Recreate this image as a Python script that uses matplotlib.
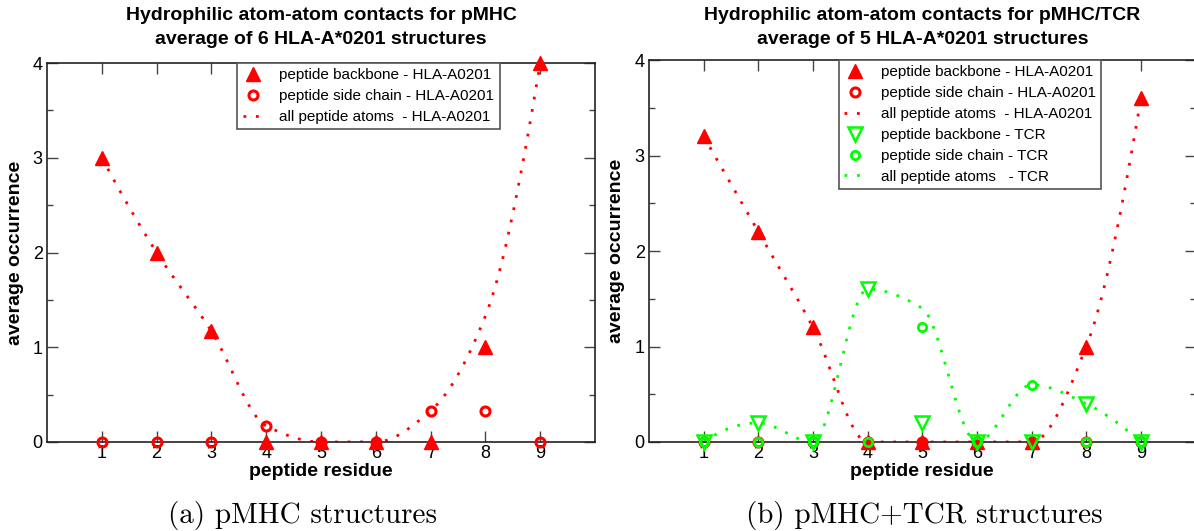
import numpy as np
import matplotlib
matplotlib.use("Agg")
import matplotlib.pyplot as plt
from matplotlib.ticker import MultipleLocator

plt.rcParams['font.family'] = ['Liberation Sans', 'DejaVu Sans']

# ---------------- data ----------------
residues = [1, 2, 3, 4, 5, 6, 7, 8, 9]

# pMHC (average of 6 HLA-A*0201 structures)
a_backbone_hla = [3.0, 2.0, 1.17, 0.0, 0.0, 0.0, 0.0, 1.0, 4.0]
a_side_hla = [0.0, 0.0, 0.0, 0.17, 0.0, 0.0, 0.33, 0.33, 0.0]
a_all_hla = [3.0, 2.0, 1.17, 0.17, 0.0, 0.0, 0.33, 1.33, 4.0]

# pMHC/TCR (average of 5 HLA-A*0201 structures)
b_backbone_hla = [3.2, 2.2, 1.2, 0.0, 0.0, 0.0, 0.0, 1.0, 3.6]
b_side_hla = [0.0, 0.0, 0.0, 0.0, 0.0, 0.0, 0.0, 0.0, 0.0]
b_all_hla = [3.2, 2.2, 1.2, 0.0, 0.0, 0.0, 0.0, 1.0, 3.6]
b_backbone_tcr = [0.0, 0.2, 0.0, 1.6, 0.2, 0.0, 0.0, 0.4, 0.0]
b_side_tcr = [0.0, 0.0, 0.0, 0.0, 1.2, 0.0, 0.6, 0.0, 0.0]
b_all_tcr = [0.0, 0.2, 0.0, 1.6, 1.4, 0.0, 0.6, 0.4, 0.0]

titles = [("Hydrophilic atom-atom contacts for pMHC",
           "average of 6 HLA-A*0201 structures"),
          ("Hydrophilic atom-atom contacts for pMHC/TCR",
           "average of 5 HLA-A*0201 structures")]
captions = ["(a) pMHC structures", "(b) pMHC+TCR structures"]

RED = "#ff0000"
GREEN = "#00ff00"


def pchip(x, y, xs):
    """Monotone piecewise cubic (Fritsch-Carlson) through (x, y) evaluated at xs."""
    x = np.asarray(x, float)
    y = np.asarray(y, float)
    n = len(x)
    h = np.diff(x)
    m = np.diff(y) / h
    d = np.zeros(n)
    for i in range(1, n - 1):
        if m[i - 1] * m[i] > 0:
            w1 = 2 * h[i] + h[i - 1]
            w2 = h[i] + 2 * h[i - 1]
            d[i] = (w1 + w2) / (w1 / m[i - 1] + w2 / m[i])
        else:
            d[i] = 0.0

    def end_slope(h0, h1, m0, m1):
        s = ((2 * h0 + h1) * m0 - h0 * m1) / (h0 + h1)
        if np.sign(s) != np.sign(m0):
            s = 0.0
        elif np.sign(m0) != np.sign(m1) and abs(s) > abs(3 * m0):
            s = 3 * m0
        return s

    d[0] = end_slope(h[0], h[1], m[0], m[1])
    d[-1] = end_slope(h[-1], h[-2], m[-1], m[-2])

    xs = np.asarray(xs, float)
    idx = np.clip(np.searchsorted(x, xs) - 1, 0, n - 2)
    hh = h[idx]
    s = (xs - x[idx]) / hh
    h00 = 2 * s**3 - 3 * s**2 + 1
    h10 = s**3 - 2 * s**2 + s
    h01 = -2 * s**3 + 3 * s**2
    h11 = s**3 - s**2
    return h00 * y[idx] + h10 * hh * d[idx] + h01 * y[idx + 1] + h11 * hh * d[idx + 1]


xs_fine = np.linspace(residues[0], residues[-1], 800)
dot_style = dict(lw=2.0, dashes=(1.0, 3.5), dash_capstyle='butt')

fig = plt.figure(figsize=(11.94, 5.31), dpi=100)
W, H = 1194.0, 531.0


def make_axes(x0, x1, ytop, ybot):
    return fig.add_axes([x0 / W, (H - ybot) / H, (x1 - x0) / W, (ybot - ytop) / H])


axA = make_axes(47, 595, 63, 442)
axB = make_axes(649, 1195.6, 60, 442)

mk = dict(ls='none', clip_on=False)

# panel (a)
axA.plot(xs_fine, pchip(residues, a_all_hla, xs_fine), color=RED, **dot_style,
         label="all peptide atoms  - HLA-A0201", zorder=2)
axA.plot(residues, a_backbone_hla, marker='^', ms=10, color=RED, **mk,
         label="peptide backbone - HLA-A0201", zorder=3)
axA.plot(residues, a_side_hla, marker='o', ms=6.5, mfc='none', mec=RED, mew=2.2, **mk,
         label="peptide side chain - HLA-A0201", zorder=4)

# panel (b)
axB.plot(xs_fine, pchip(residues, b_all_hla, xs_fine), color=RED, **dot_style,
         label="all peptide atoms  - HLA-A0201", zorder=2)
axB.plot(xs_fine, pchip(residues, b_all_tcr, xs_fine), color=GREEN, **dot_style,
         label="all peptide atoms   - TCR", zorder=2)
axB.plot(residues, b_backbone_hla, marker='^', ms=10, color=RED, **mk,
         label="peptide backbone - HLA-A0201", zorder=3)
axB.plot(residues, b_side_hla, marker='o', ms=6.5, mfc='none', mec=RED, mew=2.2, **mk,
         label="peptide side chain - HLA-A0201", zorder=3)
axB.plot(residues, b_backbone_tcr, marker='v', ms=10, mfc='none', mec=GREEN, mew=1.8,
         **mk, label="peptide backbone - TCR", zorder=4)
axB.plot(residues, b_side_tcr, marker='o', ms=6, mfc='none', mec=GREEN, mew=2.0, **mk,
         label="peptide side chain - TCR", zorder=4)

order_a = ["peptide backbone - HLA-A0201", "peptide side chain - HLA-A0201",
           "all peptide atoms  - HLA-A0201"]
order_b = order_a + ["peptide backbone - TCR", "peptide side chain - TCR",
                     "all peptide atoms   - TCR"]

caption_x = [302, 924]

for k, (ax, order, (t1, t2), cap) in enumerate([(axA, order_a, titles[0], captions[0]),
                                                (axB, order_b, titles[1], captions[1])]):
    ax.set_xlim(0, 10)
    ax.set_ylim(0, 4)
    ax.set_xticks(residues)
    ax.yaxis.set_major_locator(MultipleLocator(1))
    ax.yaxis.set_minor_locator(MultipleLocator(0.5))
    ax.tick_params(axis='both', which='both', direction='in', top=True, right=True,
                   color='#444444', width=1.0)
    ax.tick_params(axis='both', which='major', length=8, labelsize=13, pad=3)
    ax.tick_params(axis='x', which='major', pad=2)
    ax.tick_params(axis='y', which='minor', length=4.5)
    for sp in ax.spines.values():
        sp.set_color('#222222')
        sp.set_linewidth(1.2)

    bbox = ax.get_position()
    ax_h_px = bbox.height * H
    top_px = H - (bbox.y0 + bbox.height) * H
    ax.text(0.5, 1 + (top_px - 16) / ax_h_px, t1, transform=ax.transAxes,
            ha='center', va='center', fontsize=14, fontweight='bold')
    ax.text(0.5, 1 + (top_px - 40) / ax_h_px, t2, transform=ax.transAxes,
            ha='center', va='center', fontsize=14, fontweight='bold')

    ax.set_xlabel("peptide residue", fontsize=14, fontweight='bold')
    ax.set_ylabel("average occurrence", fontsize=14, fontweight='bold')

    fig.text(caption_x[k] / W, (H - 515) / H, cap, ha='center', va='center',
             fontsize=21, family='cmr10')

    handles, labels = ax.get_legend_handles_labels()
    hmap = dict(zip(labels, handles))
    leg = ax.legend([hmap[k2] for k2 in order], order, loc='upper left',
                    bbox_to_anchor=(0.347, 1.0), fontsize=11, frameon=True,
                    fancybox=False, edgecolor='#555555', framealpha=1,
                    borderaxespad=0, borderpad=0.35, labelspacing=0.45,
                    handlelength=1.4, handletextpad=1.0)
    leg.get_frame().set_linewidth(1.2)
    leg.set_zorder(5)

axA.xaxis.set_label_coords(0.5, -0.056)
axB.xaxis.set_label_coords(0.5, -0.056)
axA.yaxis.set_label_coords(-0.042, 0.5)
axB.yaxis.set_label_coords(-0.044, 0.5)

fig.savefig("out.png", dpi=100)
